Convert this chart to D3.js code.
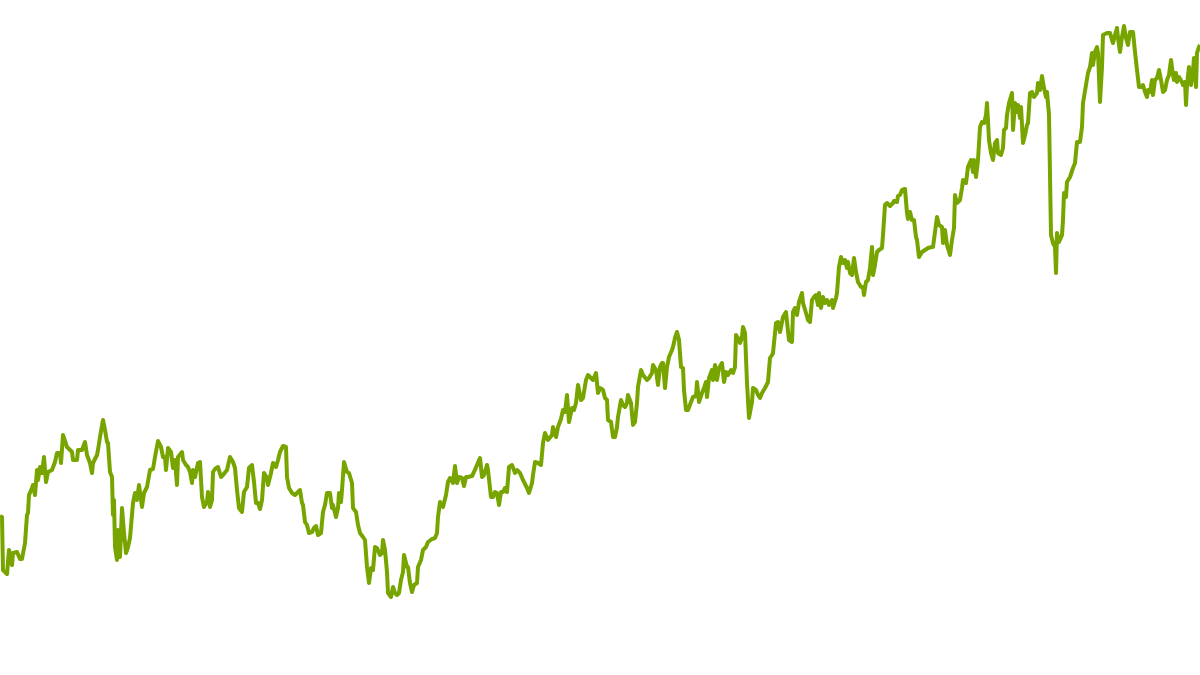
<!DOCTYPE html>
<html>
<head>
<meta charset="utf-8">
<script src="https://cdn.jsdelivr.net/npm/d3@7"></script>
<style>
  html, body { margin: 0; padding: 0; background: #ffffff; }
  svg { display: block; }
</style>
</head>
<body>
<svg id="chart" width="1200" height="675"></svg>
<script>
// Trading-day index and index level
const days = [
  0,2,3,7,9,12,13,17,20,22,
  25,27,28,29,32,33,35,37,38,40,
  42,44,46,48,52,55,57,60,61,63,
  67,70,72,73,77,78,82,85,87,90,
  92,93,97,98,100,103,105,107,108,110,
  112,113,114,115,117,118,120,122,124,126,
  128,130,133,135,137,139,142,144,147,150,
  153,155,158,161,163,165,166,168,171,173,
  175,177,178,182,183,186,188,190,192,193,
  195,198,200,202,204,207,208,210,212,213,
  215,218,221,223,227,230,233,235,237,239,
  242,244,247,249,252,254,256,258,260,262,
  264,267,268,271,273,276,278,280,283,286,
  287,289,292,295,298,300,302,303,305,307,
  309,312,314,316,318,321,323,325,327,330,
  332,333,336,338,339,341,342,344,347,349,
  352,353,356,358,360,363,365,367,369,371,
  373,375,377,380,382,383,385,387,388,391,
  393,395,397,399,401,403,404,407,408,410,
  412,414,417,418,421,423,426,428,432,435,
  437,438,440,443,446,448,450,453,455,457,
  459,462,464,466,468,472,474,477,480,482,
  484,487,488,491,493,495,497,499,501,503,
  505,507,509,512,515,517,520,523,527,529,
  532,533,535,538,541,543,545,548,552,553,
  556,558,561,563,565,567,569,572,574,576,
  578,581,583,586,588,591,593,596,598,600,
  603,605,607,608,611,613,615,617,618,621,
  623,625,627,628,631,633,635,637,638,641,
  643,647,649,652,653,656,658,660,662,663,
  665,667,669,672,673,675,677,679,681,683,
  684,686,688,691,693,696,697,699,702,704,
  706,707,709,712,713,715,717,719,722,724,
  726,728,731,733,735,736,738,740,742,743,
  745,747,749,752,753,756,758,760,762,765,
  768,770,772,773,776,778,780,783,786,787,
  789,792,793,795,797,799,802,803,806,808,
  810,812,814,816,818,819,821,823,825,827,
  829,832,833,836,837,839,841,843,845,847,
  848,850,852,854,856,858,861,863,864,866,
  868,870,872,873,875,877,879,882,883,885,
  887,890,893,894,897,898,900,902,905,907,
  908,910,912,914,916,917,919,922,925,928,
  932,933,937,939,942,943,945,947,950,952,
  954,955,957,960,962,963,966,968,971,973,
  974,976,978,980,982,984,986,987,989,991,
  993,995,997,998,1001,1003,1004,1006,1007,1009,
  1012,1013,1015,1017,1018,1020,1021,1023,1025,1027,
  1028,1030,1032,1034,1037,1038,1040,1042,1044,1046,
  1047,1049,1051,1053,1055,1056,1057,1059,1062,1063,
  1064,1066,1067,1070,1073,1075,1077,1080,1082,1083,
  1086,1088,1090,1092,1093,1095,1097,1098,1100,1102,
  1103,1107,1110,1112,1113,1115,1117,1118,1120,1122,
  1124,1126,1128,1130,1133,1135,1137,1139,1142,1143,
  1145,1147,1148,1150,1152,1153,1155,1157,1159,1161,
  1163,1165,1167,1169,1171,1173,1174,1176,1177,1179,
  1182,1183,1185,1186,1187,1189,1191,1193,1194,1196,
  1197,1199,1200
];

const values = [
  104,103,50,46,70,55,67,68,61,61,
  77,105,107,125,132,135,125,150,140,153,
  147,163,138,148,150,158,167,167,157,185,
  173,170,168,160,160,170,170,178,165,157,
  147,157,165,170,183,200,190,178,177,148,
  143,105,120,73,60,90,63,112,87,67,
  73,82,117,127,120,135,113,127,133,150,
  151,163,179,173,163,163,150,172,168,152,
  160,135,163,168,160,155,153,148,137,150,
  143,157,158,123,113,118,128,113,120,148,
  151,153,143,145,150,163,158,152,130,112,
  108,128,133,152,155,138,117,117,111,120,
  147,142,135,147,157,153,160,168,174,173,
  143,132,127,125,128,130,117,115,98,95,
  87,88,92,94,85,87,108,115,127,127,
  112,115,103,112,127,118,130,158,148,147,
  137,112,108,95,87,83,80,53,37,52,
  50,73,72,65,67,80,70,48,27,23,
  33,27,25,27,40,48,65,53,53,37,
  28,35,37,53,60,70,73,78,81,82,
  87,103,118,113,125,138,142,137,154,137,
  143,142,134,143,143,144,148,155,162,143,
  145,155,150,123,123,128,127,115,128,128,
  132,128,153,155,147,150,147,140,132,127,
  137,145,158,157,155,177,187,180,185,193,
  183,193,201,210,208,225,198,212,210,217,
  235,220,222,240,245,242,240,247,227,232,
  230,222,220,200,198,183,183,193,203,220,
  215,213,217,225,217,195,198,217,233,250,
  245,240,242,247,255,250,235,253,257,257,
  232,253,263,270,273,282,288,280,253,252,
  230,210,210,218,223,224,238,218,227,232,
  238,223,242,250,240,255,240,252,257,238,
  248,245,250,247,253,285,282,277,283,293,
  287,237,202,218,232,230,225,222,227,232,
  238,262,265,267,297,298,288,303,308,298,
  280,278,308,312,305,318,327,317,307,300,
  298,320,323,325,315,327,312,323,317,320,
  315,320,312,322,327,353,363,357,360,352,
  358,347,345,362,348,338,333,333,325,338,
  340,352,373,345,355,368,370,372,385,415,
  417,414,417,419,418,424,425,430,431,407,
  401,408,400,400,383,380,363,368,370,372,
  373,373,403,395,393,377,390,375,365,380,
  392,425,417,420,432,440,437,453,460,448,
  460,443,460,493,498,497,505,517,480,467,
  460,477,480,467,465,472,490,492,505,517,
  527,490,517,508,515,502,513,477,485,495,
  497,527,528,523,527,537,530,544,532,523,
  528,505,385,377,373,347,387,378,385,400,
  427,423,438,443,452,457,478,478,493,517,
  535,547,553,567,555,568,573,567,518,553,
  585,587,587,580,577,585,592,582,568,583,
  594,582,575,588,588,568,550,533,533,535,
  528,523,530,528,540,525,540,542,550,540,
  528,530,540,545,560,545,540,547,538,543,
  538,535,538,515,535,553,535,550,562,533,
  567,573,575
];

const width = 1200, height = 675;
const data = days.map((d, i) => ({ day: d, value: values[i] }));

const x = d3.scaleLinear().domain([0, 1200]).range([0, width]);
const y = d3.scaleLinear().domain([0, 620]).range([620, 0]);

const svg = d3.select("#chart");

const line = d3.line()
  .x(d => x(d.day))
  .y(d => y(d.value))
  .curve(d3.curveLinear);

svg.append("path")
  .datum(data)
  .attr("fill", "none")
  .attr("stroke", "#78a400")
  .attr("stroke-width", 4)
  .attr("stroke-linejoin", "round")
  .attr("stroke-linecap", "butt")
  .attr("d", line);
</script>
</body>
</html>
